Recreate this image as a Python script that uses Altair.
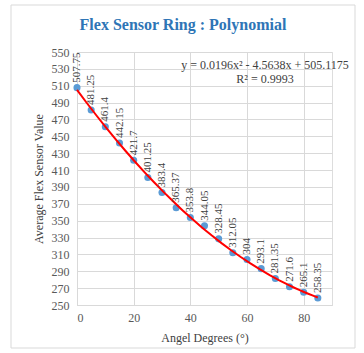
import altair as alt
import pandas as pd

angles = [0, 5, 10, 15, 20, 25, 30, 35, 40, 45, 50, 55, 60, 65, 70, 75, 80, 85]
values = [507.75, 481.25, 461.4, 442.15, 421.7, 401.25, 383.4, 365.37, 353.8,
          344.05, 328.45, 312.05, 304, 293.1, 281.35, 271.6, 265.1, 258.35]
labels = ["507.75", "481.25", "461.4", "442.15", "421.7", "401.25", "383.4", "365.37", "353.8",
          "344.05", "328.45", "312.05", "304", "293.1", "281.35", "271.6", "265.1", "258.35"]
x_ticks = [0, 20, 40, 60, 80]
y_ticks = [250, 270, 290, 310, 330, 350, 370, 390, 410, 430, 450, 470, 490, 510, 530, 550]
title_text = "Flex Sensor Ring : Polynomial"
equation = "y = 0.0196x² - 4.5638x + 505.1175"
r_squared = "R² = 0.9993"

df = pd.DataFrame({"angle": angles, "value": values, "label": labels})

FONT = "Liberation Serif"

xs = alt.Scale(domain=[0, 90], nice=False)
ys = alt.Scale(domain=[250, 550], nice=False, zero=False)

xaxis = alt.Axis(values=x_ticks, title="Angel Degrees (°)", ticks=False, labelPadding=7,
                 titlePadding=9, grid=True, domainColor="#D9D9D9", gridColor="#D9D9D9",
                 labelOverlap=False,
                 labelFont=FONT, labelFontSize=12, labelColor="#595959",
                 titleFont=FONT, titleFontSize=12, titleColor="#404040", titleFontWeight="normal")
yaxis = alt.Axis(values=y_ticks, title="Average Flex Sensor Value", ticks=False, labelPadding=8,
                 titlePadding=6, grid=True, domainColor="#D9D9D9", gridColor="#D9D9D9",
                 labelOverlap=False,
                 labelFont=FONT, labelFontSize=12, labelColor="#595959",
                 titleFont=FONT, titleFontSize=12, titleColor="#404040", titleFontWeight="normal")

x_enc = alt.X("angle:Q", scale=xs, axis=xaxis)
y_enc = alt.Y("value:Q", scale=ys, axis=yaxis)

base = alt.Chart(df)
one = base.transform_filter("datum.angle == 0")

border = one.mark_rect(fill=None, stroke="#D9D9D9", strokeWidth=1, clip=False).encode(
    x=alt.value(-66), x2=alt.value(278), y=alt.value(-47), y2=alt.value(296)
)

points = base.mark_circle(size=50, color="#5B9BD5", opacity=1).encode(x=x_enc, y=y_enc)

trend = base.transform_regression("angle", "value", method="poly", order=2,
                                  extent=[0, 85]).mark_line(color="#FF0000", strokeWidth=2).encode(
    x=x_enc, y=y_enc,
)

text = base.mark_text(angle=270, align="left", baseline="middle", dx=5, font=FONT,
                      fontSize=11, color="#404040").encode(x=x_enc, y=y_enc, text="label:N")

eq1 = one.mark_text(font=FONT, fontSize=12, color="#404040", align="center",
                    baseline="middle", text=equation).encode(x=alt.value(188), y=alt.value(13))
eq2 = one.mark_text(font=FONT, fontSize=12, color="#404040", align="center",
                    baseline="middle", text=r_squared).encode(x=alt.value(188), y=alt.value(27))
title = one.mark_text(font=FONT, fontSize=16, fontWeight="bold", color="#2E75B6", align="center",
                      baseline="middle", text=title_text).encode(x=alt.value(106), y=alt.value(-27))

chart = alt.layer(border, points, trend, text, eq1, eq2, title).properties(
    width=255, height=253,
    autosize=alt.AutoSizeParams(type="none"),
    padding={"left": 77, "top": 52, "right": 32, "bottom": 48},
).configure_view(stroke=None).configure(background="white")

chart.save("out.html", embed_options={"renderer": "svg", "actions": False})
